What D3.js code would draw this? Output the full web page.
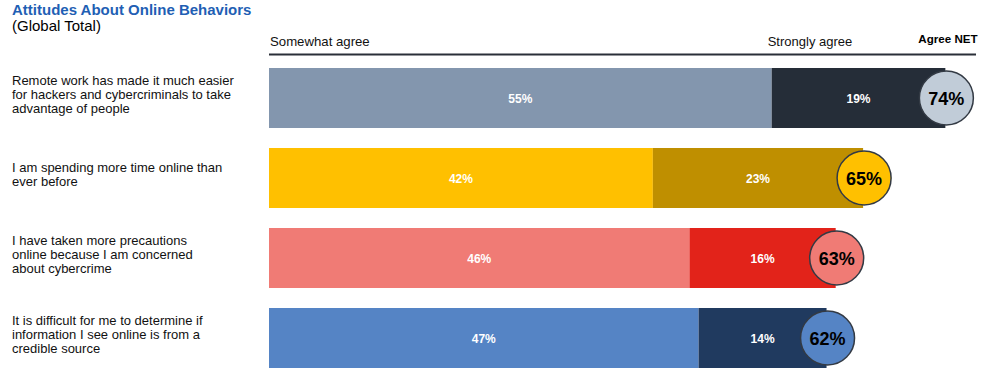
<!DOCTYPE html>
<html>
<head>
<meta charset="utf-8">
<script src="https://cdn.jsdelivr.net/npm/d3@7"></script>
<style>
  body { margin: 0; background: #fff; }
  svg { display: block; font-family: "Liberation Sans", Arial, sans-serif; }
</style>
</head>
<body>
<svg id="chart" width="988" height="388"></svg>
<script>
// statements shown on the left, one per bar
const statements = [
    ["Remote work has made it much easier", "for hackers and cybercriminals to take", "advantage of people"],
    ["I am spending more time online than", "ever before"],
    ["I have taken more precautions", "online because I am concerned", "about cybercrime"],
    ["It is difficult for me to determine if", "information I see online is from a", "credible source"]
];
const somewhatAgree = [55, 42, 46, 47];
const stronglyAgree = [19, 23, 16, 14];
const agreeNet = [74, 65, 63, 62];

// colour sets per row: somewhat, strongly, net bubble
const somewhatColors = ["#8396ae", "#ffc000", "#f07b75", "#5584c5"];
const strongColors = ["#252d38", "#bf8f00", "#e2231a", "#203a5f"];
const bubbleColors = ["#c1ccd8", "#ffc000", "#f07b75", "#5584c5"];

const svg = d3.select("#chart");

const x = d3.scaleLinear().domain([0, 100]).range([269, 269 + 914]);
const y = d3.scaleBand().domain(d3.range(statements.length)).range([68, 368]).paddingInner(0.25).paddingOuter(0);
const lineH = 14;

// title
svg.append("text").attr("x", 12).attr("y", 15)
    .attr("fill", "#1f5fb4").attr("font-weight", "bold").attr("font-size", 15)
    .text("Attitudes About Online Behaviors");
svg.append("text").attr("x", 12).attr("y", 31)
    .attr("fill", "#000").attr("font-size", 15)
    .text("(Global Total)");

// column headers
svg.append("text").attr("x", x(0) + 1).attr("y", 46).attr("font-size", 13.2).attr("fill", "#111").text("Somewhat agree");
svg.append("text").attr("x", x(somewhatAgree[0]) - 4).attr("y", 46).attr("font-size", 13).attr("fill", "#111").text("Strongly agree");
svg.append("text").attr("x", 948).attr("y", 43).attr("text-anchor", "middle")
    .attr("font-size", 11.6).attr("font-weight", "bold").attr("fill", "#000").text("Agree NET");
svg.append("line").attr("x1", x(0)).attr("x2", 976).attr("y1", 54.5).attr("y2", 54.5)
    .attr("stroke", "#2a2f38").attr("stroke-width", 2.2);

const rows = svg.selectAll("g.row")
    .data(statements.map((s, i) => ({
        i, lines: s, some: somewhatAgree[i], strong: stronglyAgree[i], net: agreeNet[i]
    })))
    .join("g")
    .attr("class", "row")
    .attr("transform", d => `translate(0,${y(d.i)})`);

// left labels, roughly centred on the bar
rows.append("text")
    .attr("x", 12)
    .attr("font-size", 13)
    .attr("fill", "#111")
    .selectAll("tspan")
    .data(d => d.lines.map((l, k) => ({l, k, n: d.lines.length})))
    .join("tspan")
    .attr("x", 12)
    .attr("y", t => y.bandwidth() / 2 + 0.5 + (t.k - (t.n - 1) / 2) * lineH)
    .text(t => t.l);

// somewhat agree segment
rows.append("rect")
    .attr("x", x(0))
    .attr("width", d => x(d.some) - x(0))
    .attr("height", y.bandwidth())
    .attr("fill", d => somewhatColors[d.i]);

// strongly agree segment
rows.append("rect")
    .attr("x", d => x(d.some))
    .attr("width", d => x(d.some + d.strong) - x(d.some))
    .attr("height", y.bandwidth())
    .attr("fill", d => strongColors[d.i]);

rows.append("text")
    .attr("x", d => (x(0) + x(d.some)) / 2)
    .attr("y", y.bandwidth() / 2 + 4.5)
    .attr("text-anchor", "middle")
    .attr("font-size", 12).attr("font-weight", "bold").attr("fill", "#fff")
    .text(d => d.some + "%");

rows.append("text")
    .attr("x", d => (x(d.some) + x(d.some + d.strong)) / 2)
    .attr("y", y.bandwidth() / 2 + 4.5)
    .attr("text-anchor", "middle")
    .attr("font-size", 12).attr("font-weight", "bold").attr("fill", "#fff")
    .text(d => d.strong + "%");

// NET bubble at the end of the bar
rows.append("circle")
    .attr("cx", d => x(d.some + d.strong) + 1)
    .attr("cy", y.bandwidth() / 2)
    .attr("r", 27)
    .attr("fill", d => bubbleColors[d.i])
    .attr("stroke", "#333a44")
    .attr("stroke-width", 1.5);

rows.append("text")
    .attr("x", d => x(d.some + d.strong) + 1)
    .attr("y", y.bandwidth() / 2 + 6.5)
    .attr("text-anchor", "middle")
    .attr("font-size", 18).attr("font-weight", "bold").attr("fill", "#000")
    .text(d => d.net + "%");
</script>
</body>
</html>
